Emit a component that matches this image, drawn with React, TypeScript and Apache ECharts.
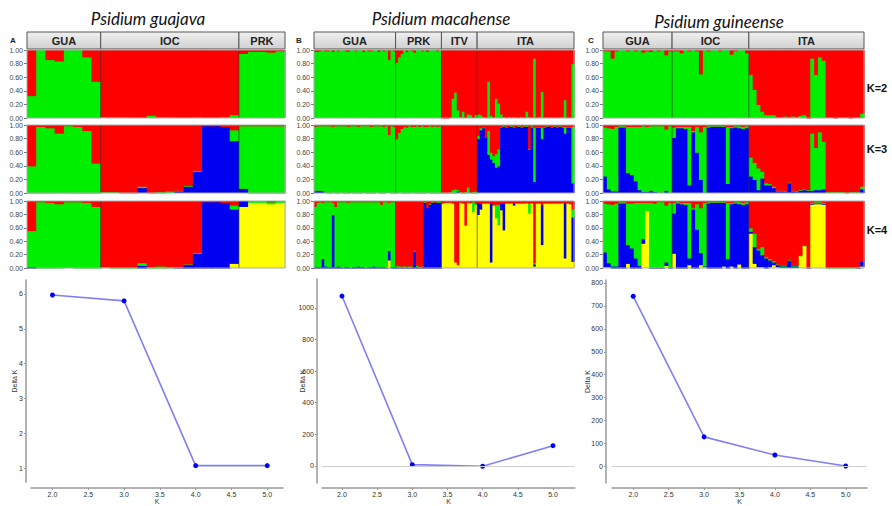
import React, { useEffect, useRef } from "react";
import * as echarts from "echarts";

// ---------------- colours ----------------
const RED = "#ff0000";
const GREEN = "#00ee00";
const BLUE = "#0000f0";
const YELLOW = "#ffff00";

// ---------------- Panel A : Psidium guajava ----------------
const groupsA = ["GUA", "IOC", "PRK"];
const sizesA = [8, 15, 5];
// K=2 (green; red is the remainder)
const a2Green = [
  0.33, 1, 0.86, 0.84, 1, 1, 0.9, 0.54,
  0.02, 0.02, 0.02, 0.01, 0.01, 0.04, 0.02, 0.02, 0.01, 0.01, 0.02, 0.01, 0.01, 0.02, 0.05,
  0.95, 0.98, 0.98, 0.97, 0.99,
];
// K=3 (blue, green; red remainder)
const a3Blue = [
  0, 0, 0, 0, 0, 0, 0, 0,
  0.01, 0.01, 0, 0, 0.08, 0, 0, 0.01, 0.03, 0.1, 0.32, 0.99, 0.99, 0.98, 0.77,
  0.07, 0, 0, 0, 0,
];
const a3Green = [
  0.4, 0.98, 0.96, 0.88, 0.99, 0.98, 0.92, 0.44,
  0.01, 0.01, 0.01, 0.01, 0.02, 0.01, 0.02, 0.02, 0.01, 0.01, 0.01, 0, 0, 0, 0.16,
  0.92, 0.99, 0.99, 0.99, 0.99,
];
// K=4 (yellow, blue, green; red remainder)
const a4Yellow = [
  0, 0, 0, 0, 0.01, 0, 0, 0,
  0.01, 0, 0, 0, 0, 0, 0, 0, 0, 0, 0, 0, 0, 0, 0.07,
  0.92, 0.98, 0.98, 0.96, 0.98,
];
const a4Blue = [
  0.02, 0, 0, 0, 0, 0, 0, 0,
  0, 0, 0, 0, 0.04, 0, 0, 0, 0.01, 0.05, 0.22, 0.99, 0.99, 0.98, 0.81,
  0.08, 0, 0, 0, 0,
];
const a4Green = [
  0.54, 0.99, 0.98, 0.96, 0.98, 0.99, 0.98, 0.92,
  0.01, 0.01, 0.01, 0.01, 0.04, 0.02, 0.03, 0.02, 0.01, 0.01, 0.01, 0, 0, 0, 0.06,
  0, 0.02, 0.02, 0.03, 0.02,
];

// ---------------- Panel B : Psidium macahense ----------------
const groupsB = ["GUA", "PRK", "ITV", "ITA"];
const sizesB = [32, 18, 14, 38];
const b2Green = [
  0.98, 0.98, 0.99, 1, 0.99, 0.99, 1, 0.98, 1, 0.99, 1, 1, 0.99, 0.98, 1, 1, 0.99, 1, 1, 0.98, 1, 0.99, 0.99, 1, 1, 0.98, 1, 0.99, 1, 0.86, 1, 0.99,
  0.82, 0.9, 0.95, 1, 0.98, 1, 0.99, 0.97, 1, 1, 0.99, 1, 0.98, 1, 1, 1, 0.99, 1,
  0, 0, 0, 0.01, 0.29, 0.38, 0.12, 0.02, 0.1, 0.01, 0.06, 0.05, 0.01, 0.05,
  0.06, 0.05, 0.02, 0.01, 0.54, 0.04, 0.01, 0.29, 0.22, 0.06, 0.02, 0.01, 0.02, 0.01, 0.02, 0.01, 0.01, 0.02, 0.01, 0.1,
  0.02, 0.01, 0.88, 0.01, 0.02, 0.39, 0.01, 0.01, 0.01, 0.01, 0.01, 0.01, 0.01, 0.02, 0.27, 0.01, 0.01, 0.8,
];
const b3Blue = [
  0.03, 0.04, 0.04, 0.03, 0.01, 0, 0, 0.01, 0, 0, 0.01, 0, 0, 0, 0.01, 0, 0, 0, 0, 0.01, 0, 0, 0, 0, 0.01, 0, 0, 0, 0.01, 0.01, 0, 0,
  0, 0.01, 0, 0, 0, 0, 0.01, 0, 0, 0, 0, 0, 0.01, 0, 0, 0, 0, 0,
  0, 0, 0, 0, 0, 0, 0.03, 0, 0, 0, 0.01, 0, 0, 0,
  0.8, 0.93, 0.96, 0.82, 0.57, 0.5, 0.45, 0.38, 0.4, 0.97, 0.98, 0.97, 0.98, 0.98, 0.97, 0.98, 0.98, 0.97, 0.98, 0.98,
  0.64, 0.97, 0.17, 0.97, 0.97, 0.8, 0.97, 0.98, 0.98, 0.97, 0.98, 0.97, 0.98, 0.97, 0.88, 0.97, 0.97, 0.15,
];
const b3Green = [
  0.95, 0.95, 0.95, 0.96, 0.98, 0.99, 0.99, 0.97, 0.99, 0.99, 0.98, 0.99, 0.99, 0.98, 0.98, 0.99, 0.99, 0.98, 0.99, 0.98, 0.99, 0.99, 0.98, 0.99, 0.98, 0.99, 0.99, 0.98, 0.98, 0.85, 0.99, 0.98,
  0.8, 0.88, 0.95, 0.98, 0.97, 0.99, 0.97, 0.98, 0.99, 0.98, 0.99, 0.98, 0.97, 0.99, 0.98, 0.99, 0.98, 0.99,
  0.01, 0.01, 0.01, 0.02, 0.05, 0.06, 0.02, 0.02, 0.01, 0.02, 0.08, 0.01, 0.02, 0.03,
  0.05, 0.03, 0.01, 0, 0.35, 0.1, 0.1, 0.2, 0.25, 0.01, 0.01, 0.01, 0, 0.01, 0.01, 0, 0.01, 0.01, 0.01, 0.01,
  0.01, 0.02, 0.8, 0.01, 0.01, 0.17, 0.01, 0.01, 0, 0.01, 0.01, 0.01, 0.01, 0.01, 0.1, 0.01, 0.01, 0.83,
];
const b4Yellow = [
  0, 0, 0, 0, 0, 0, 0, 0, 0, 0, 0, 0, 0, 0, 0, 0, 0, 0, 0, 0, 0, 0, 0, 0, 0, 0, 0, 0, 0, 0.12, 0, 0,
  0, 0, 0, 0, 0, 0, 0, 0, 0, 0, 0, 0, 0, 0, 0, 0, 0, 0,
  0.97, 0.98, 0.98, 0.98, 0.97, 0.09, 0.05, 0.98, 0.97, 0.64, 0.98, 0.97, 0.84, 0.95,
  0.8, 0.88, 0.97, 0.97, 0.97, 0.09, 0.93, 0.75, 0.65, 0.87, 0.57, 0.97, 0.97, 0.97, 0.94, 0.97, 0.97, 0.97, 0.97, 0.97,
  0.82, 0.97, 0.03, 0.97, 0.97, 0.35, 0.97, 0.97, 0.97, 0.97, 0.97, 0.97, 0.97, 0.97, 0.15, 0.97, 0.96, 0.1,
];
const b4Blue = [
  0.02, 0.02, 0.02, 0.14, 0.03, 0.02, 0.02, 0.8, 0.02, 0.03, 0.02, 0.01, 0.02, 0.02, 0.01, 0.02, 0.02, 0.03, 0.02, 0.02, 0.01, 0.02, 0.02, 0.03, 0.02, 0.02, 0.02, 0.02, 0.01, 0.14, 0.02, 0.02,
  0.02, 0.01, 0.02, 0.01, 0.02, 0.01, 0.02, 0.25, 0.02, 0.01, 0.02, 0.98, 0.9, 0.95, 0.98, 0.98, 0.98, 0.98,
  0, 0, 0, 0, 0, 0, 0, 0, 0, 0, 0, 0, 0, 0,
  0.17, 0.08, 0, 0, 0, 0.88, 0, 0, 0, 0.1, 0.4, 0, 0, 0, 0.03, 0, 0, 0, 0, 0,
  0, 0, 0.03, 0, 0, 0.6, 0, 0, 0, 0, 0, 0, 0, 0, 0.82, 0, 0.01, 0.66,
];
const b4Green = [
  0.9, 0.96, 0.97, 0.84, 0.96, 0.97, 0.97, 0.18, 0.9, 0.96, 0.97, 0.98, 0.97, 0.96, 0.98, 0.97, 0.97, 0.96, 0.97, 0.97, 0.98, 0.97, 0.97, 0.96, 0.97, 0.97, 0.93, 0.97, 0.98, 0.72, 0.97, 0.97,
  0.02, 0.02, 0.01, 0.02, 0.01, 0.02, 0.01, 0.01, 0.02, 0.01, 0.01, 0.01, 0, 0.01, 0.01, 0, 0.01, 0.01,
  0, 0, 0, 0, 0, 0, 0, 0, 0, 0, 0, 0.01, 0.15, 0.02,
  0, 0, 0, 0, 0, 0, 0.02, 0.2, 0.3, 0, 0, 0, 0, 0, 0, 0, 0, 0, 0, 0.01,
  0.15, 0, 0.02, 0, 0, 0, 0, 0, 0, 0, 0, 0, 0, 0.01, 0, 0, 0.01, 0.12,
];

// ---------------- Panel C : Psidium guineense ----------------
const groupsC = ["GUA", "IOC", "ITA"];
const sizesC = [18, 20, 30];
const c2Green = [
  0.99, 0.99, 0.88, 0.99, 1, 1, 0.99, 1, 0.99, 1, 0.97, 0.99, 0.98, 1, 0.99, 1, 0.93, 0.99,
  0.99, 0.99, 0.96, 1, 0.99, 1, 0.99, 0.65, 1, 0.99, 1, 1, 0.99, 1, 1, 0.94, 0.99, 1, 1, 0.96,
  0.64, 0.42, 0.2, 0.1, 0.05, 0.05, 0.05, 0.02, 0.02, 0.03, 0.02, 0.03, 0.02, 0.04, 0.05,
  0, 0.88, 0.64, 0.9, 0.85, 0.01, 0.01, 0, 0.01, 0.01, 0.01, 0, 0.01, 0.01, 0.07,
];
const c3Blue = [
  0.25, 0.06, 0.03, 0.03, 0.97, 0.97, 0.3, 0.27, 0.18, 0.05, 0.02, 0.02, 0.04, 0.02, 0.01, 0.01, 0.04, 0.01,
  0.82, 0.96, 0.96, 0.95, 0.12, 0.9, 0.6, 0.2, 0.01, 0.97, 0.98, 0.98, 0.98, 0.98, 0.14, 0.96, 0.97, 0.96, 0.95, 0.96,
  0.25, 0.2, 0.05, 0.22, 0.12, 0.12, 0.08, 0.03, 0.03, 0.02, 0.15, 0.03, 0.02, 0.04, 0.05,
  0.04, 0.04, 0.05, 0.05, 0.06, 0.01, 0.01, 0.01, 0.01, 0.01, 0, 0.01, 0.01, 0.01, 0.06,
];
const c3Green = [
  0.72, 0.9, 0.92, 0.95, 0.02, 0.02, 0.68, 0.71, 0.8, 0.93, 0.97, 0.96, 0.95, 0.97, 0.98, 0.98, 0.9, 0.98,
  0.15, 0.02, 0.02, 0.03, 0.86, 0.02, 0.38, 0.7, 0.97, 0.02, 0.01, 0.01, 0.01, 0.01, 0.84, 0.02, 0.02, 0.03, 0.03, 0.03,
  0.28, 0.25, 0.32, 0.1, 0.03, 0.02, 0.02, 0.01, 0.01, 0.01, 0.01, 0.01, 0.01, 0.01, 0.01,
  0.01, 0.84, 0.62, 0.85, 0.7, 0.01, 0.01, 0.01, 0.01, 0.01, 0.01, 0.01, 0.01, 0.01, 0.04,
];
const c4Yellow = [
  0.02, 0.02, 0, 0, 0, 0, 0.07, 0, 0, 0, 0.37, 0.86, 0, 0, 0, 0, 0.04, 0,
  0.22, 0, 0, 0, 0.05, 0, 0, 0.05, 0.02, 0, 0, 0, 0, 0.03, 0, 0.03, 0, 0.06, 0, 0,
  0.52, 0.07, 0.02, 0.02, 0, 0.02, 0.05, 0.02, 0.01, 0.01, 0.01, 0.01, 0.01, 0.18, 0.33,
  0, 0.95, 0.96, 0.96, 0.95, 0, 0, 0, 0, 0, 0, 0, 0, 0, 0.03,
];
const c4Blue = [
  0.22, 0.06, 0.03, 0.03, 0.97, 0.97, 0.28, 0.3, 0.15, 0.04, 0.07, 0, 0.01, 0.01, 0.01, 0.01, 0.05, 0.01,
  0.6, 0.97, 0.96, 0.95, 0.1, 0.88, 0.58, 0.18, 0.01, 0.97, 0.98, 0.98, 0.98, 0.95, 0.14, 0.93, 0.97, 0.9, 0.95, 0.96,
  0.03, 0.25, 0.25, 0.18, 0.15, 0.1, 0.04, 0.03, 0.02, 0.02, 0.1, 0.02, 0.02, 0, 0,
  0.01, 0.01, 0.01, 0.01, 0.01, 0, 0, 0, 0, 0, 0, 0, 0, 0.01, 0.07,
];
const c4Green = [
  0.73, 0.88, 0.92, 0.94, 0.02, 0.02, 0.62, 0.67, 0.83, 0.94, 0.54, 0.12, 0.97, 0.96, 0.98, 0.98, 0.85, 0.97,
  0.16, 0.02, 0.02, 0.03, 0.83, 0.02, 0.38, 0.67, 0.95, 0.02, 0.01, 0.01, 0.01, 0.01, 0.84, 0.02, 0.02, 0.03, 0.03, 0.03,
  0.05, 0.2, 0.02, 0.12, 0.02, 0.02, 0.02, 0.01, 0.01, 0.01, 0.01, 0.01, 0.01, 0.01, 0.01,
  0.01, 0.02, 0.02, 0.02, 0.02, 0.01, 0.01, 0.01, 0.01, 0.01, 0.01, 0.01, 0.01, 0.01, 0,
];

// ---------------- Delta K (Evanno) ----------------
const kValues = [2, 3, 4, 5];
const deltaKA = [5.97, 5.8, 1.07, 1.07];
const deltaKB = [1075, 8, -2, 128];
const deltaKC = [742, 129, 50, 2];
const kTicks = [2, 2.5, 3, 3.5, 4, 4.5, 5];
const yTicksA = [1, 2, 3, 4, 5, 6];
const yTicksB = [0, 200, 400, 600, 800, 1000];
const yTicksC = [0, 100, 200, 300, 400, 500, 600, 700, 800];

const kLabels = ["K=2", "K=3", "K=4"];

// ---------------- layout ----------------
const HEADER = { top: 32, height: 17 };
const ROWS = [
  { top: 50, height: 68 },
  { top: 125, height: 68 },
  { top: 201, height: 67 },
];
const K_LABEL_Y = [88, 149, 230];
const ROW_COLORS = [
  [GREEN, RED],
  [BLUE, GREEN, RED],
  [YELLOW, BLUE, GREEN, RED],
];

const FONT = "Liberation Sans, Arial, sans-serif";

const panels = [
  {
    letter: "A", letterX: 13, title: "Psidium guajava", titleX: 148, titleY: 18,
    left: 27, width: 258, groups: groupsA, sizes: sizesA,
    comps: [[a2Green], [a3Blue, a3Green], [a4Yellow, a4Blue, a4Green]],
    line: { left: 31, width: 252, top: 280, height: 205, xMin: 1.7, xMax: 5.22, yMin: 0.6, yMax: 6.4, xOff: 6, yOff: 5, nameGap: 8, values: deltaKA, yTicks: yTicksA, zero: false },
  },
  {
    letter: "B", letterX: 299, title: "Psidium macahense", titleX: 441, titleY: 18,
    left: 314, width: 260, groups: groupsB, sizes: sizesB,
    comps: [[b2Green], [b3Blue, b3Green], [b4Yellow, b4Blue, b4Green]],
    line: { left: 322, width: 253, top: 279, height: 204, xMin: 1.716, xMax: 5.313, yMin: -108, yMax: 1183, xOff: 5, yOff: 5, nameGap: 11, values: deltaKB, yTicks: yTicksB, zero: true },
  },
  {
    letter: "C", letterX: 591, title: "Psidium guineense", titleX: 719, titleY: 21,
    left: 603, width: 261, groups: groupsC, sizes: sizesC,
    comps: [[c2Green], [c3Blue, c3Green], [c4Yellow, c4Blue, c4Green]],
    line: { left: 612, width: 255, top: 280, height: 208, xMin: 1.7, xMax: 5.3, yMin: -72, yMax: 813, xOff: 5, yOff: 6, nameGap: 15, values: deltaKC, yTicks: yTicksC, zero: true },
  },
];

function buildOption() {
  const grid: any[] = [];
  const xAxis: any[] = [];
  const yAxis: any[] = [];
  const series: any[] = [];
  const graphic: any[] = [];

  const headerFill = new echarts.graphic.LinearGradient(0, 0, 0, 1, [
    { offset: 0, color: "#f0f0f0" },
    { offset: 1, color: "#d0d0d0" },
  ]);

  panels.forEach((p) => {
    const N = p.sizes.reduce((s, v) => s + v, 0);
    const bounds: number[] = [];
    let acc = 0;
    const headerData = p.sizes.map((sz) => {
      const s = acc;
      acc += sz;
      bounds.push(acc);
      return [s, acc];
    });
    const dividers = bounds.slice(0, -1).map((b) => [b, 0]);

    // ---- header boxes
    const gh = grid.length;
    grid.push({ left: p.left, top: HEADER.top, width: p.width, height: HEADER.height });
    xAxis.push({ gridIndex: gh, type: "value", min: 0, max: N, show: false });
    yAxis.push({ gridIndex: gh, type: "value", min: 0, max: 1, show: false });
    const groups = p.groups;
    series.push({
      type: "custom",
      xAxisIndex: xAxis.length - 1,
      yAxisIndex: yAxis.length - 1,
      silent: true,
      data: headerData,
      renderItem: (params: any, api: any) => {
        const s = api.coord([api.value(0), 1]);
        const e = api.coord([api.value(1), 0]);
        return {
          type: "group",
          children: [
            {
              type: "rect",
              shape: { x: s[0], y: s[1], width: e[0] - s[0], height: e[1] - s[1] },
              style: { fill: headerFill, stroke: "#555", lineWidth: 1 },
            },
            {
              type: "text",
              style: {
                text: groups[params.dataIndex],
                x: (s[0] + e[0]) / 2,
                y: (s[1] + e[1]) / 2 + 0.5,
                align: "center",
                verticalAlign: "middle",
                fontSize: 11,
                fontWeight: "bold",
                fontFamily: FONT,
                fill: "#222",
              },
            },
          ],
        };
      },
    });

    // ---- STRUCTURE rows (stacked membership bars, one column per individual)
    p.comps.forEach((comps, r) => {
      const gi = grid.length;
      grid.push({ left: p.left, top: ROWS[r].top, width: p.width, height: ROWS[r].height });
      xAxis.push({ gridIndex: gi, type: "value", min: 0, max: N, show: false });
      const xv = xAxis.length - 1;
      yAxis.push({
        gridIndex: gi,
        type: "value",
        min: 0,
        max: 1,
        interval: 0.2,
        axisLine: { show: false },
        axisTick: { show: true, length: 3, lineStyle: { color: "#777" } },
        axisLabel: { fontSize: 7, color: "#444", margin: 4, fontFamily: FONT, formatter: (v: number) => v.toFixed(2) },
        splitLine: { show: false },
      });
      const yi = yAxis.length - 1;
      const colors = ROW_COLORS[r];
      // each row: [index, comp1, comp2, ..., remainder]
      const rows = Array.from({ length: N }, (_, i) => {
        const vals = comps.map((a) => a[i]);
        const rest = Math.max(0, 1 - vals.reduce((s, v) => s + v, 0));
        return [i, ...vals, rest];
      });
      const nComp = comps.length + 1;
      series.push({
        type: "custom",
        xAxisIndex: xv,
        yAxisIndex: yi,
        silent: true,
        z: 2,
        data: rows,
        renderItem: (params: any, api: any) => {
          const i = api.value(0);
          const x0 = api.coord([i, 0])[0];
          const x1 = api.coord([i + 1, 0])[0];
          const children: any[] = [];
          let cum = 0;
          for (let k = 0; k < nComp; k++) {
            const v = api.value(k + 1);
            if (v <= 0) continue;
            const yb = api.coord([i, cum])[1];
            const yt = api.coord([i, Math.min(1, cum + v)])[1];
            children.push({
              type: "rect",
              shape: { x: x0, y: yt, width: x1 - x0 + 0.8, height: yb - yt + (k === 0 ? 0 : 0.6) },
              style: { fill: colors[k] },
            });
            cum += v;
          }
          return { type: "group", children };
        },
      });
      // dividers between populations
      series.push({
        type: "custom",
        xAxisIndex: xv,
        yAxisIndex: yi,
        silent: true,
        z: 5,
        data: dividers,
        renderItem: (params: any, api: any) => {
          const a = api.coord([api.value(0), 0]);
          const b = api.coord([api.value(0), 1]);
          return {
            type: "line",
            shape: { x1: a[0], y1: a[1], x2: b[0], y2: b[1] },
            style: { stroke: "#333", lineWidth: 0.8, opacity: 0.8 },
          };
        },
      });
      // frame
      series.push({
        type: "custom",
        xAxisIndex: xv,
        yAxisIndex: yi,
        silent: true,
        z: 6,
        data: [[0, 0]],
        renderItem: (params: any, api: any) => {
          const a = api.coord([0, 1]);
          const b = api.coord([N, 0]);
          return {
            type: "rect",
            shape: { x: a[0], y: a[1], width: b[0] - a[0], height: b[1] - a[1] },
            style: { fill: "none", stroke: "#aaa", lineWidth: 1 },
          };
        },
      });
    });

    // ---- Delta K line chart
    const L = p.line;
    const gl = grid.length;
    grid.push({ left: L.left, top: L.top, width: L.width, height: L.height });
    xAxis.push({
      gridIndex: gl,
      type: "value",
      min: L.xMin,
      max: L.xMax,
      offset: L.xOff,
      axisLine: { show: true, onZero: false, lineStyle: { color: "#999", width: 1.5 } },
      axisTick: { show: true, customValues: kTicks, length: 2, lineStyle: { color: "#999" } },
      axisLabel: { customValues: kTicks, fontSize: 7, color: "#333", margin: 3, fontFamily: FONT, formatter: (v: number) => v.toFixed(1) },
      splitLine: { show: false },
      name: "K",
      nameLocation: "middle",
      nameGap: 10,
      nameMoveOverlap: false,
      nameTextStyle: { fontSize: 7, color: "#333", fontFamily: FONT },
    });
    yAxis.push({
      gridIndex: gl,
      type: "value",
      min: L.yMin,
      max: L.yMax,
      offset: L.yOff,
      axisLine: { show: true, onZero: false, lineStyle: { color: "#999", width: 1.5 } },
      axisTick: { show: true, customValues: L.yTicks, length: 2, lineStyle: { color: "#999" } },
      axisLabel: { customValues: L.yTicks, fontSize: 7, color: "#333", margin: 3, fontFamily: FONT, formatter: (v: number) => String(Math.round(v)) },
      splitLine: { show: false },
      name: "Delta K",
      nameLocation: "middle",
      nameRotate: 90,
      nameGap: L.nameGap,
      nameMoveOverlap: false,
      nameTextStyle: { fontSize: 7, color: "#333", fontFamily: FONT },
    });
    series.push({
      type: "line",
      xAxisIndex: xAxis.length - 1,
      yAxisIndex: yAxis.length - 1,
      data: kValues.map((k, i) => [k, L.values[i]]),
      symbol: "circle",
      symbolSize: 5,
      silent: true,
      itemStyle: { color: "#0000ff" },
      lineStyle: { color: "#8080f4", width: 1.6 },
      z: 3,
      markLine: L.zero
        ? {
            silent: true,
            symbol: "none",
            label: { show: false },
            lineStyle: { color: "#cfcfcf", width: 1, type: "solid" },
            data: [{ yAxis: 0 }],
          }
        : undefined,
    });

    // ---- titles & panel letters
    graphic.push({
      type: "text",
      x: p.titleX,
      y: p.titleY,
      style: { text: p.title, fontSize: 17, fontStyle: "italic", fontFamily: "Lato, Open Sans, sans-serif", fill: "#111", align: "center", verticalAlign: "middle" },
    });
    graphic.push({
      type: "text",
      x: p.letterX,
      y: 40,
      style: { text: p.letter, fontSize: 8, fontWeight: "bold", fontFamily: FONT, fill: "#222", align: "center", verticalAlign: "middle" },
    });
  });

  kLabels.forEach((t, i) => {
    graphic.push({
      type: "text",
      x: 877,
      y: K_LABEL_Y[i],
      style: { text: t, fontSize: 11, fontWeight: "bold", fontFamily: FONT, fill: "#111", align: "center", verticalAlign: "middle" },
    });
  });

  return {
    animation: false,
    backgroundColor: "#ffffff",
    textStyle: { fontFamily: FONT },
    grid,
    xAxis,
    yAxis,
    series,
    graphic,
  };
}

export default function App() {
  const ref = useRef<HTMLDivElement>(null);
  useEffect(() => {
    if (!ref.current) return;
    const chart = echarts.init(ref.current, null, { renderer: "svg" });
    chart.setOption(buildOption() as any);
    return () => chart.dispose();
  }, []);
  return (
    <div
      ref={ref}
      style={{ position: "absolute", left: 0, top: 0, width: 892, height: 506, background: "#fff" }}
    />
  );
}
